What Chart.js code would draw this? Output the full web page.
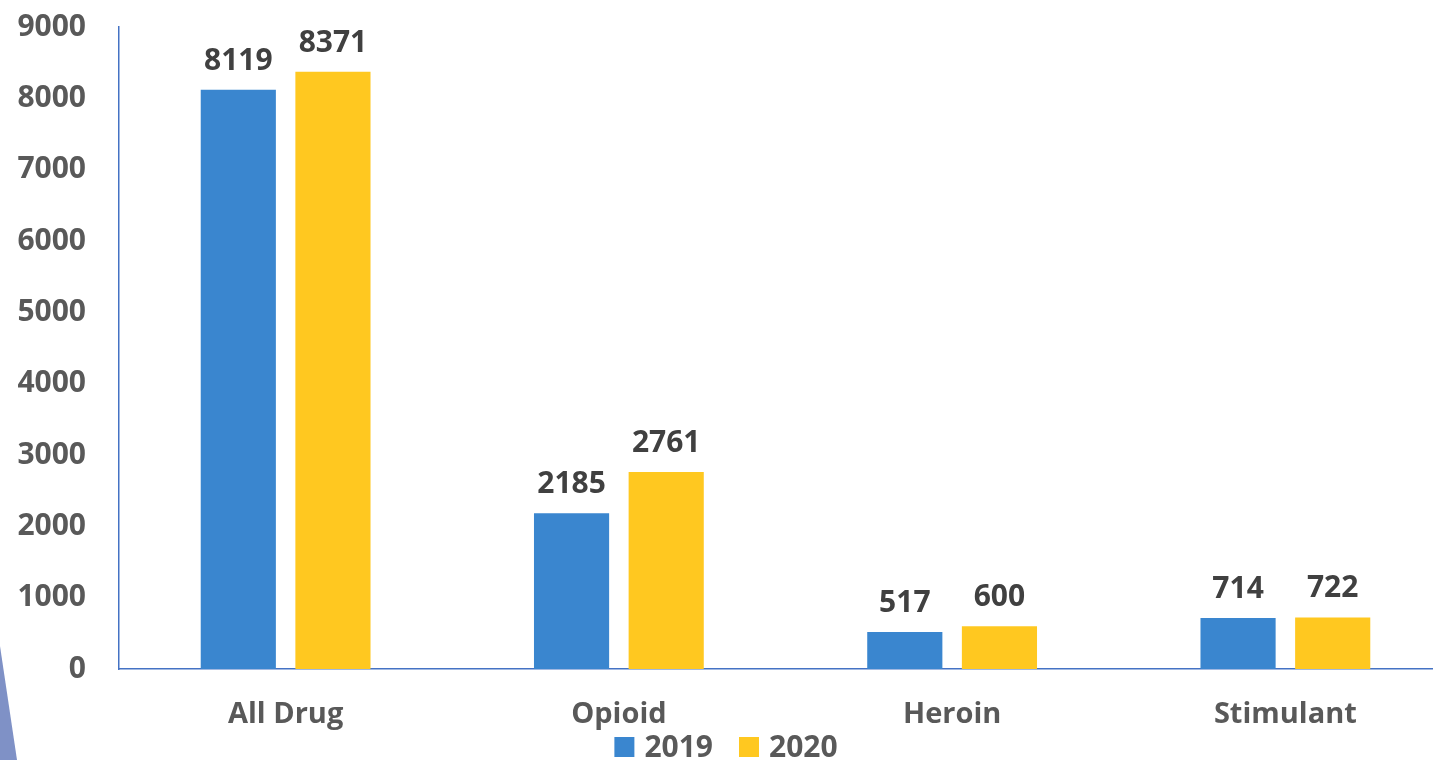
<!DOCTYPE html>
<html lang="en">
<head>
    <meta charset="UTF-8">
    <title>Drug Deaths 2019 vs 2020</title>
    <script src="https://cdn.jsdelivr.net/npm/chart.js"></script>
    <style>
        html, body { margin: 0; padding: 0; background: #fff; overflow: hidden; }
        #wrap { width: 1452px; height: 760px; position: relative; }
    </style>
</head>
<body>
    <div id="wrap"><canvas id="myChart"></canvas></div>

    <script>
        // Data
        const categories = ['All Drug', 'Opioid', 'Heroin', 'Stimulant'];
        const values2019 = [8119, 2185, 517, 714];
        const values2020 = [8371, 2761, 600, 722];
        const seriesNames = ['2019', '2020'];
        const yTicks = [0, 1000, 2000, 3000, 4000, 5000, 6000, 7000, 8000, 9000];

        const FONT = "'Open Sans', 'DejaVu Sans', sans-serif";

        // value labels above each bar
        const valueLabels = {
            id: 'valueLabels',
            afterDatasetsDraw(chart) {
                const ctx = chart.ctx;
                ctx.save();
                ctx.font = 'bold 30px ' + FONT;
                ctx.fillStyle = '#404040';
                ctx.textAlign = 'center';
                ctx.textBaseline = 'alphabetic';
                chart.data.datasets.forEach((ds, i) => {
                    chart.getDatasetMeta(i).data.forEach((bar, j) => {
                        ctx.fillText(ds.data[j], bar.x, bar.y - 20);
                    });
                });
                ctx.restore();
            }
        };

        // legend drawn by hand so the spacing matches the slide
        const bottomLegend = {
            id: 'bottomLegend',
            afterDraw(chart) {
                const ctx = chart.ctx;
                ctx.save();
                ctx.font = 'bold 30px ' + FONT;
                ctx.textBaseline = 'middle';
                ctx.textAlign = 'left';
                const box = 20, gapText = 10, gapItem = 26;
                const items = chart.data.datasets.map(ds => ({
                    text: ds.label, color: ds.backgroundColor,
                    w: box + gapText + ctx.measureText(ds.label).width
                }));
                const total = items.reduce((s, it) => s + it.w, 0) + gapItem * (items.length - 1);
                let x = chart.width / 2 - total / 2;
                const cy = 747;
                items.forEach(it => {
                    ctx.fillStyle = it.color;
                    ctx.fillRect(x, cy - box / 2, box, box);
                    ctx.fillStyle = '#595959';
                    ctx.fillText(it.text, x + box + gapText, cy + 1);
                    x += it.w + gapItem;
                });
                ctx.restore();
            }
        };

        // slide decoration in the lower left corner
        const cornerShape = {
            id: 'cornerShape',
            afterDraw(chart) {
                const ctx = chart.ctx;
                ctx.save();
                ctx.fillStyle = '#7F91C6';
                ctx.beginPath();
                ctx.moveTo(0, 646);
                ctx.lineTo(17, 760);
                ctx.lineTo(0, 760);
                ctx.closePath();
                ctx.fill();
                ctx.restore();
            }
        };

        const ctx = document.getElementById('myChart').getContext('2d');
        const myChart = new Chart(ctx, {
            type: 'bar',
            data: {
                labels: categories,
                datasets: [{
                    label: seriesNames[0],
                    data: values2019,
                    backgroundColor: '#3A86CF'
                }, {
                    label: seriesNames[1],
                    data: values2020,
                    backgroundColor: '#FFC820'
                }]
            },
            options: {
                responsive: true,
                maintainAspectRatio: false,
                animation: false,
                categoryPercentage: 0.568,
                barPercentage: 0.794,
                layout: { padding: 0 },
                plugins: {
                    tooltip: { enabled: false },
                    legend: { display: false }
                },
                scales: {
                    x: {
                        afterFit(scale) { scale.height = 91; },
                        grid: { display: false, drawTicks: false },
                        border: { color: '#4472C4', width: 1.5 },
                        ticks: {
                            color: '#595959',
                            padding: 28,
                            font: { family: FONT, size: 29, weight: 'bold' }
                        }
                    },
                    y: {
                        min: 0,
                        max: 9000,
                        afterBuildTicks(scale) {
                            scale.ticks = yTicks.map(v => ({ value: v }));
                        },
                        afterFit(scale) {
                            scale.width = 119;
                            scale.paddingTop = 27;
                            scale.paddingBottom = 0;
                        },
                        grid: { display: false, drawTicks: false },
                        border: { color: '#4472C4', width: 1.5 },
                        ticks: {
                            color: '#595959',
                            padding: 33,
                            font: { family: FONT, size: 30, weight: 'bold' },
                            callback: v => String(v)
                        }
                    }
                }
            },
            plugins: [valueLabels, bottomLegend, cornerShape]
        });
    </script>
</body>
</html>
